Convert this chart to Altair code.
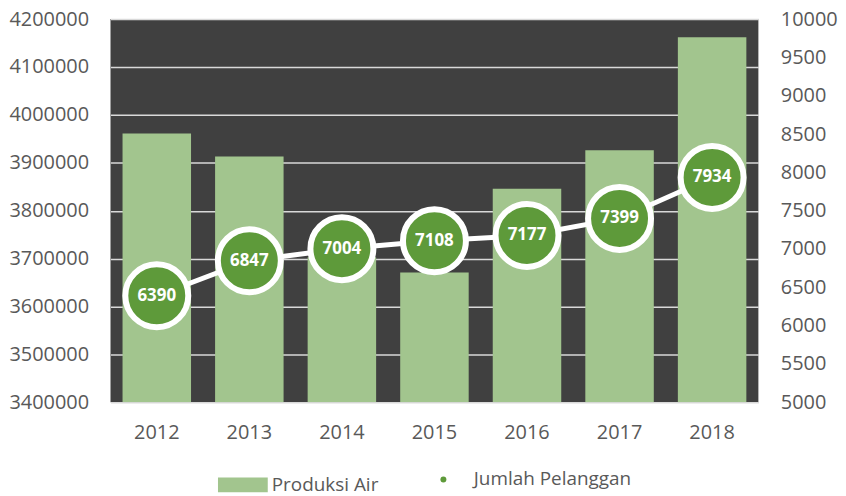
import altair as alt
import pandas as pd

years = ["2012", "2013", "2014", "2015", "2016", "2017", "2018"]
produksi_air = [3961000, 3913000, 3703000, 3671000, 3846000, 3926000, 4162000]
jumlah_pelanggan = [6390, 6847, 7004, 7108, 7177, 7399, 7934]

left_ticks = [3400000, 3500000, 3600000, 3700000, 3800000, 3900000, 4000000, 4100000, 4200000]
right_ticks = [5000, 5500, 6000, 6500, 7000, 7500, 8000, 8500, 9000, 9500, 10000]

df = pd.DataFrame({
    "year": years,
    "produksi": produksi_air,
    "pelanggan": jumlah_pelanggan,
    "s1": ["Produksi Air"] * len(years),
    "s2": ["Jumlah Pelanggan"] * len(years),
})

FONT = "Open Sans"
LABEL_COLOR = "#595959"
BAR_COLOR = "#A2C58E"
DOT_COLOR = "#5E9A3A"

x = alt.X("year:N", title=None, sort=years,
          scale=alt.Scale(paddingInner=0.26, paddingOuter=0.13),
          axis=alt.Axis(labelAngle=0, labelPadding=20, domain=False, ticks=False,
                        labelFontSize=20, labelFont=FONT, labelColor=LABEL_COLOR))

bars = alt.Chart(df).mark_bar(color=BAR_COLOR, clip=True).encode(
    x=x,
    y=alt.Y("produksi:Q", title=None,
            scale=alt.Scale(domain=[3400000, 4200000], nice=False, zero=False),
            axis=alt.Axis(values=left_ticks, format="d", domain=False, ticks=False,
                          labelPadding=22, labelFontSize=20, labelFont=FONT,
                          labelColor=LABEL_COLOR, grid=True, gridColor="#D9D9D9",
                          gridWidth=1.5)),
    y2=alt.datum(3400000),
    color=alt.Color("s1:N", scale=alt.Scale(domain=["Produksi Air"], range=[BAR_COLOR]),
                    legend=alt.Legend(title=None, orient="none", legendX=118, legendY=453,
                                      symbolType="M-1.667,-0.5H1.667V0.5H-1.667Z",
                                      symbolSize=900, symbolStrokeWidth=0,
                                      labelOffset=14, labelFontSize=19, labelFont=FONT,
                                      labelColor=LABEL_COLOR)),
)

yr = alt.Y("pelanggan:Q", title=None,
           scale=alt.Scale(domain=[5000, 10000], nice=False, zero=False),
           axis=alt.Axis(orient="right", values=right_ticks, format="d", domain=False,
                         ticks=False, labelPadding=22, labelFontSize=20, labelFont=FONT,
                         labelColor=LABEL_COLOR, grid=False))

line = alt.Chart(df).mark_line(color="white", strokeWidth=5).encode(x=x, y=yr)

points = alt.Chart(df).mark_point(filled=True, size=4000, stroke="white",
                                  strokeWidth=6, opacity=1, fillOpacity=1).encode(
    x=x, y=yr,
    fill=alt.Fill("s2:N", scale=alt.Scale(domain=["Jumlah Pelanggan"], range=[DOT_COLOR]),
                  legend=alt.Legend(title=None, orient="none", legendX=325, legendY=453,
                                    symbolType="circle", symbolSize=36,
                                    symbolStrokeWidth=0, symbolFillColor="#6AA84F",
                                    labelOffset=21, labelFontSize=19, labelFont=FONT,
                                    labelColor=LABEL_COLOR)),
)

labels = alt.Chart(df).mark_text(color="white", fontWeight="bold", fontSize=17,
                                 font=FONT).encode(
    x=x, y=yr, text=alt.Text("pelanggan:Q", format="d"))

right = alt.layer(line, points, labels)

chart = alt.layer(bars, right).resolve_scale(y="independent").properties(
    width=651, height=385,
    padding={"left": 0, "top": 0, "right": 0, "bottom": 0},
).configure_view(fill="#404040", stroke=None)

chart.save("out.html", embed_options={"renderer": "svg", "actions": False})
